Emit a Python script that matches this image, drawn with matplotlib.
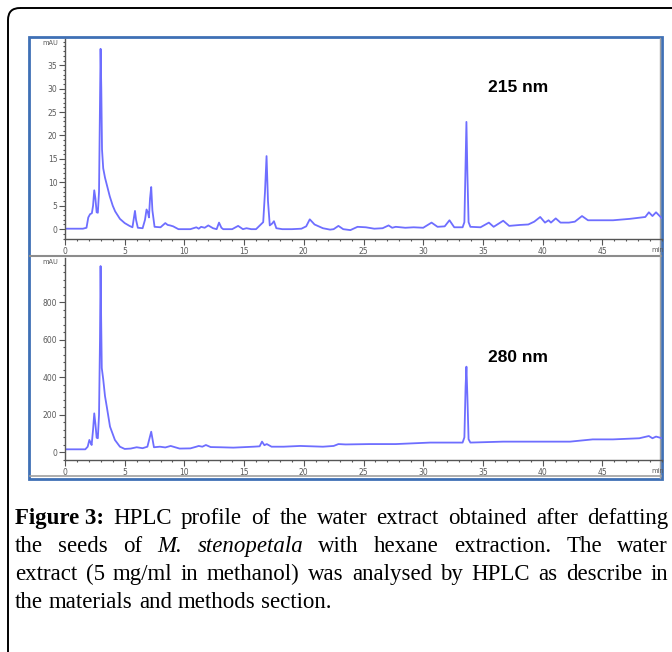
import numpy as np
import matplotlib
matplotlib.use("Agg")
import matplotlib.pyplot as plt
from matplotlib.patches import FancyBboxPatch, Rectangle
from matplotlib.ticker import MultipleLocator

# retention time (min) and absorbance (mAU)
t215 = [0, 1.5, 1.8, 1.95, 2.1, 2.25, 2.35, 2.45, 2.55, 2.65, 2.75, 2.85, 2.92, 2.98,
        3.04, 3.1, 3.2, 3.35, 3.5, 3.75, 4.0, 4.2, 4.6, 5.0, 5.4, 5.65, 5.78, 5.86,
        5.95, 6.1, 6.5, 6.7, 6.83, 6.95, 7.03, 7.12, 7.22, 7.32, 7.5, 8.0, 8.4, 8.6,
        8.8, 9.06, 9.5, 10.5, 11.0, 11.2, 11.4, 11.7, 12.0, 12.4, 12.7, 12.9, 13.1,
        13.25, 14.0, 14.5, 14.9, 15.2, 15.6, 16.0, 16.4, 16.6, 16.75, 16.88, 17.0,
        17.15, 17.35, 17.5, 17.7, 18.2, 19.0, 19.8, 20.2, 20.5, 20.9, 21.6, 22.2,
        22.5, 22.9, 23.3, 23.9, 24.5, 25.2, 25.9, 26.6, 27.1, 27.4, 27.7, 28.5, 29.2,
        30.0, 30.7, 31.2, 31.8, 32.2, 32.6, 33.3, 33.45, 33.55, 33.62, 33.7, 33.8,
        33.95, 34.8, 35.5, 35.9, 36.7, 37.2, 38.1, 38.8, 39.3, 39.8, 40.2, 40.5,
        40.7, 41.1, 41.5, 42.2, 42.7, 43.3, 43.8, 45.0, 45.9, 47.3, 48.6, 48.9,
        49.2, 49.5, 50.0]
a215 = [0.1, 0.1, 0.3, 2.5, 3.2, 3.4, 5.0, 8.3, 6.5, 3.6, 3.5, 8.0, 25.5, 38.5,
        30.0, 17.0, 13.0, 11.0, 9.5, 7.0, 5.0, 3.8, 2.2, 1.3, 0.7, 0.4, 2.5, 3.9,
        2.0, 0.3, 0.2, 2.0, 4.2, 3.5, 2.5, 6.5, 9.0, 4.0, 0.5, 0.4, 1.3, 0.9,
        0.8, 0.6, 0.0, 0.0, 0.4, 0.1, 0.5, 0.3, 0.8, 0.2, 0.0, 1.4, 0.3,
        0.0, 0.0, 0.7, 0.0, 0.2, 0.0, 0.0, 1.0, 1.5, 8.0, 15.6, 6.0,
        0.8, 1.2, 1.7, 0.2, 0.0, 0.0, 0.1, 0.6, 2.1, 1.0, 0.2, -0.1,
        0.0, 0.7, 0.0, -0.2, 0.5, 0.4, 0.1, 0.2, 0.8, 0.3, 0.5, 0.3, 0.4,
        0.3, 1.4, 0.5, 0.6, 1.9, 0.4, 0.4, 1.5, 14.0, 22.9, 12.0, 1.5,
        0.5, 0.4, 1.4, 0.5, 1.8, 0.7, 0.9, 1.0, 1.6, 2.6, 1.4, 1.9,
        1.4, 2.3, 1.4, 1.4, 1.6, 2.8, 1.9, 1.9, 1.9, 2.2, 2.6, 3.6,
        2.8, 3.6, 2.3]

# 280 nm trace
t280 = [0, 1.7, 1.9, 2.04, 2.15, 2.23, 2.35, 2.45, 2.55, 2.65, 2.75, 2.85, 2.93, 2.98,
        3.03, 3.08, 3.2, 3.35, 3.5, 3.77, 4.18, 4.6, 5.0, 5.5, 6.0, 6.5, 6.9, 7.1,
        7.22, 7.33, 7.45, 7.95, 8.4, 8.85, 9.6, 10.5, 11.0, 11.2, 11.5, 11.8, 12.2,
        13.0, 14.1, 15.8, 16.3, 16.5, 16.7, 16.9, 17.3, 18.3, 19.7, 21.6, 22.5, 22.9,
        23.5, 25.5, 27.7, 30.6, 33.3, 33.45, 33.55, 33.62, 33.7, 33.8, 33.95, 36.7,
        40.0, 42.3, 44.2, 45.9, 48.1, 48.9, 49.2, 49.5, 50.0]
a280 = [16, 16, 30, 66, 50, 39, 120, 208, 150, 78, 75, 200, 600, 994,
        700, 450, 390, 300, 243, 137, 66, 30, 18, 20, 27, 22, 30, 80,
        110, 70, 27, 30, 26, 34, 20, 21, 30, 34, 30, 39, 28,
        27, 25, 30, 32, 57, 38, 44, 30, 30, 34, 30, 34, 44,
        42, 44, 44, 52, 52, 80, 350, 457, 300, 70, 52, 57,
        57, 57, 69, 69, 75, 87, 75, 84, 75]

x_major = [0, 5, 10, 15, 20, 25, 30, 35, 40, 45]
labels = ["215 nm", "280 nm"]

caption = [
    [("Figure 3:", "bold"), ("HPLC", ""), ("profile", ""), ("of", ""), ("the", ""),
     ("water", ""), ("extract", ""), ("obtained", ""), ("after", ""), ("defatting", "")],
    [("the", ""), ("seeds", ""), ("of", ""), ("M.", "italic"), ("stenopetala", "italic"),
     ("with", ""), ("hexane", ""), ("extraction.", ""), ("The", ""), ("water", "")],
    [("extract", ""), ("(5", ""), ("mg/ml", ""), ("in", ""), ("methanol)", ""), ("was", ""),
     ("analysed", ""), ("by", ""), ("HPLC", ""), ("as", ""), ("describe", ""), ("in", "")],
    [("the", ""), ("materials", ""), ("and", ""), ("methods", ""), ("section.", "")],
]

W, H = 672, 652
fig = plt.figure(figsize=(W / 100, H / 100), dpi=100)

# background layer in pixel units
bg = fig.add_axes([0, 0, 1, 1])
bg.set_xlim(0, W)
bg.set_ylim(H, 0)
bg.axis("off")

frame = FancyBboxPatch((8, 8), 720, 700, boxstyle="round,pad=0,rounding_size=12",
                       fill=False, ec="black", lw=1.4)
bg.add_patch(frame)
bg.add_patch(Rectangle((29, 37), 633, 442, fill=False, ec="#3f70b5", lw=2.0))
bg.plot([30, 661], [256, 256], color="#8c8c8c", lw=1.5)
bg.plot([30, 661], [476, 476], color="#a0a0a0", lw=1.2)
bg.plot([660, 660], [38, 478], color="#a0a0a0", lw=1.0)

line_col = "#6e6eff"


def style_axes(ax, yminor, yticks):
    for s in ["top", "right"]:
        ax.spines[s].set_visible(False)
    for s in ["left", "bottom"]:
        ax.spines[s].set_color("#555555")
        ax.spines[s].set_linewidth(1.0)
    ax.set_xlim(0, 50)
    ax.set_xticks(x_major)
    ax.xaxis.set_minor_locator(MultipleLocator(1))
    ax.set_yticks(yticks)
    ax.yaxis.set_minor_locator(MultipleLocator(yminor))
    ax.tick_params(which="major", length=4, width=0.8, color="#555555",
                   labelsize=5.5, labelcolor="#5a5a5a", pad=1.5)
    ax.tick_params(which="minor", length=1.5, width=0.8, color="#555555")
    ax.set_facecolor("none")


ax1 = fig.add_axes([65 / W, 1 - 239 / H, 597 / W, 200 / H])
ax1.plot(t215, a215, color=line_col, lw=1.3)
ax1.set_ylim(-2.1, 40.6)
style_axes(ax1, 1, [0, 5, 10, 15, 20, 25, 30, 35])

ax2 = fig.add_axes([65 / W, 1 - 460 / H, 597 / W, 202 / H])
ax2.plot(t280, a280, color=line_col, lw=1.3)
ax2.set_ylim(-41, 1037)
style_axes(ax2, 40, [0, 200, 400, 600, 800])

for y in [43, 262]:
    bg.text(58, y, "mAU", fontsize=4.8, color="#5a5a5a", ha="right", va="center")
for y in [250, 471]:
    bg.text(651, y, "min", fontsize=4.8, color="#5a5a5a", ha="left", va="center",
            clip_on=True)

bg.text(518, 88, labels[0], fontsize=12.5, fontweight="bold", ha="center",
        va="center", family="Liberation Sans")
bg.text(518, 357, labels[1], fontsize=12.5, fontweight="bold", ha="center",
        va="center", family="Liberation Sans")

# justified caption
renderer = fig.canvas.get_renderer()
x_left, x_right = 15, 668
baselines = [524, 552, 580, 608]
for i, words in enumerate(caption):
    items = []
    for w, st in words:
        kw = dict(fontsize=16.5, family="Liberation Serif", va="baseline", ha="left")
        if st == "bold":
            kw["fontweight"] = "bold"
        if st == "italic":
            kw["fontstyle"] = "italic"
        txt = bg.text(0, baselines[i], w, **kw)
        items.append(txt)
    widths = [t.get_window_extent(renderer).width for t in items]
    if i < len(caption) - 1:
        gap = (x_right - x_left - sum(widths)) / (len(items) - 1)
    else:
        gap = 6.0
    x = x_left
    for t, wd in zip(items, widths):
        t.set_x(x)
        x += wd + gap

fig.savefig("out.png", dpi=100)
